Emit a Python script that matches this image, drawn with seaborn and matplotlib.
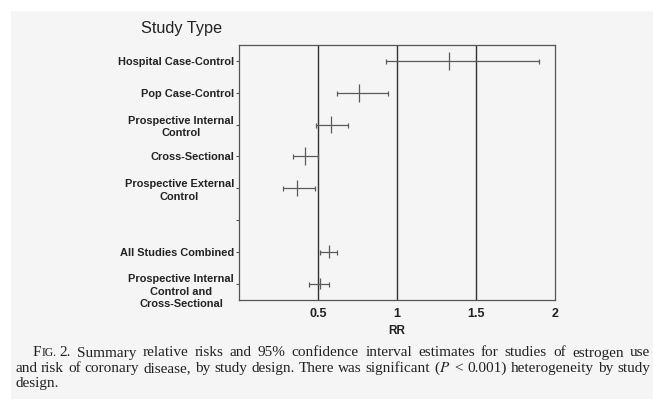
import numpy as np
import pandas as pd
import matplotlib
matplotlib.use('Agg')
import matplotlib.pyplot as plt
import seaborn as sns
from matplotlib.patches import Rectangle
from matplotlib.transforms import ScaledTranslation

# values
studies = ['Hospital Case-Control', 'Pop Case-Control', 'Prospective Internal\nControl',
           'Cross-Sectional', 'Prospective External\nControl', '',
           'All Studies Combined', 'Prospective Internal\nControl and\nCross-Sectional']
rr = [1.33, 0.76, 0.58, 0.42, 0.37, np.nan, 0.57, 0.51]
ci_low = [0.93, 0.62, 0.49, 0.34, 0.28, np.nan, 0.51, 0.44]
ci_high = [1.90, 0.94, 0.69, 0.50, 0.48, np.nan, 0.62, 0.57]
ref_lines = [0.5, 1, 1.5]
x_ticks = [0.5, 1, 1.5, 2]
x_ticklabels = ['0.5', '1', '1.5', '2']

caption = [
    'IG. 2.  Summary relative risks and 95% confidence interval estimates for studies of estrogen use',
    'and risk of coronary disease, by study design. There was significant ($P$ < 0.001) heterogeneity by study',
    'design.',
]

sns.set_theme(style='white')
plt.rcParams['font.family'] = ['Liberation Sans', 'DejaVu Sans']
plt.rcParams['mathtext.fontset'] = 'stix'

df = pd.DataFrame({'study': studies, 'rr': rr, 'lo': ci_low, 'hi': ci_high})
df['pos'] = np.arange(len(df))
pts = df.dropna()

# height of the centre tick (points) for each study
mark_h = dict(zip(studies, [13, 13, 12.5, 13, 12, 1, 9.5, 7.5]))

fig = plt.figure(figsize=(6.53, 3.99), dpi=100, facecolor='white')
fig.add_artist(Rectangle((11 / 653, 0), 1, 1 - 11 / 399, transform=fig.transFigure,
                         facecolor='#f5f5f5', edgecolor='none', zorder=-1))
ax = fig.add_axes([239 / 653, 1 - 299.5 / 399, 316 / 653, 254.5 / 399])
ax.set_facecolor('none')

for v in ref_lines:
    ax.axvline(v, color='#333333', lw=1.0, zorder=1)

ax.errorbar(pts['rr'], pts['pos'], xerr=[pts['rr'] - pts['lo'], pts['hi'] - pts['rr']],
            fmt='none', ecolor='#5a5a5a', elinewidth=0.9, capsize=1.8, capthick=0.9, zorder=2)
sns.scatterplot(data=pts, x='rr', y='pos', size='study',
                sizes={k: v ** 2 for k, v in mark_h.items()},
                marker='|', color='#5a5a5a', linewidth=0.9, legend=False, ax=ax, zorder=3)

ax.set_xlim(0, 2)
ax.set_ylim(len(studies) - 0.5, -0.5)
ax.set_xticks(x_ticks)
ax.set_xticklabels(x_ticklabels, fontsize=9, fontweight='bold', color='#222222')
ax.set_yticks(df['pos'])
ax.set_yticklabels(studies, fontsize=7.9, fontweight='bold', color='#222222',
                   multialignment='center', linespacing=1.35)
ax.tick_params(axis='x', length=0, pad=6)
ax.tick_params(axis='y', left=True, length=2.5, width=0.8, color='#555555', pad=1)
ax.set_xlabel('RR', fontsize=8.5, fontweight='bold', color='#222222', labelpad=4)
ax.set_ylabel('')
for s in ax.spines.values():
    s.set_color('#555555')
    s.set_linewidth(0.9)

# the three-line label sits lower than its tick
lab = ax.get_yticklabels()[-1]
lab.set_transform(lab.get_transform() + ScaledTranslation(0, -4 / 72, fig.dpi_scale_trans))

fig.text(141 / 653, 1 - 28 / 399, 'Study Type', fontsize=11.7, color='#222222', va='center')

# caption in serif, "FIG." with small caps, first two lines justified
serif = ['Liberation Serif', 'DejaVu Serif']
W = fig.bbox.width


def put(x_px, y, s, size=11):
    t = fig.text(x_px / W, y, s, family=serif, fontsize=size, color='#222222', va='baseline')
    fig.canvas.draw()
    return t, t.get_window_extent().x1


def justify(x0, y, line, right=650):
    words = line.split()
    texts = []
    x = x0
    for w in words:
        t, x1 = put(x, y, w)
        texts.append((t, x1 - t.get_window_extent().x0))
        x = x1 + 3
    used = sum(w for _, w in texts)
    gap = (right - x0 - used) / (len(texts) - 1)
    x = x0
    for t, w in texts:
        t.set_x(x / W)
        x += w + gap


y1 = 1 - 356.5 / 399
_, xF = put(33, y1, 'F')
_, xI = put(xF, y1, 'IG.', size=8.4)
justify(xI + 3, y1, caption[0][3:])
justify(15, 1 - 372 / 399, caption[1])
put(15, 1 - 387.5 / 399, caption[2])

fig.savefig('out.png', dpi=100, facecolor='white')
